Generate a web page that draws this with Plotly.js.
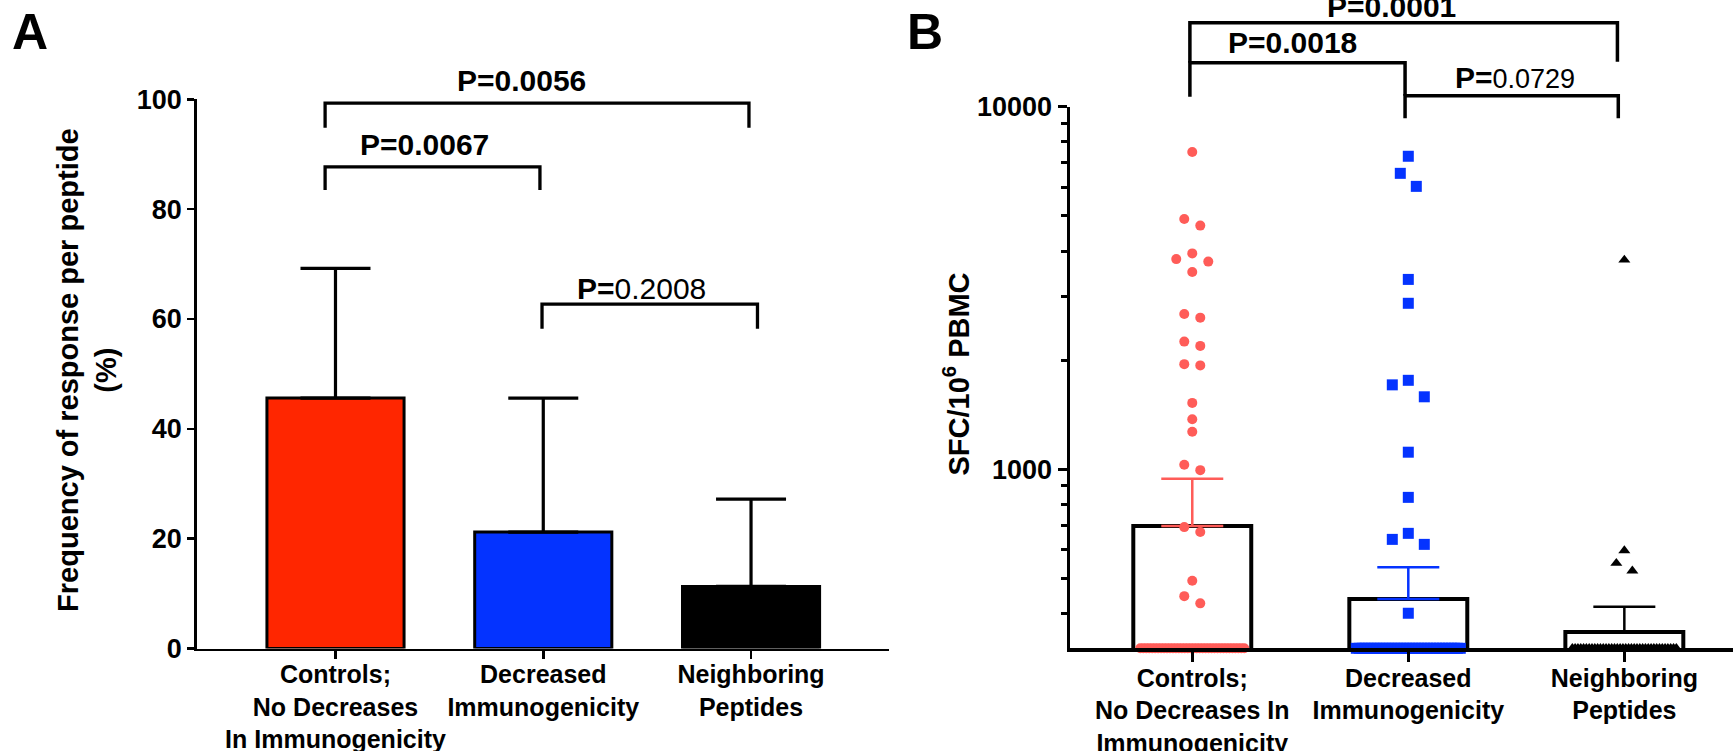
<!DOCTYPE html>
<html>
<head>
<meta charset="utf-8">
<script src="https://cdn.plot.ly/plotly-3.0.1.min.js"></script>
<style>
  html, body { margin: 0; padding: 0; background: #ffffff; }
  #chart { width: 1733px; height: 751px; }
</style>
</head>
<body>
<div id="chart"></div>
<script>
// ================= DATA =================
// Panel A : frequency of response per peptide (%)
const categoriesA = ["Controls;<br>No Decreases<br>In Immunogenicity", "Decreased<br>Immunogenicity", "Neighboring<br>Peptides"];
const freqMeanA   = [45.6, 21.2, 11.3];
const freqErrA    = [23.6, 24.4, 15.9];
const yTicksA     = [0, 20, 40, 60, 80, 100];
const pLabelsA    = ["P=0.0056", "P=0.0067", "P=0.2008"];

// Panel B : SFC / 10^6 PBMC
const categoriesB    = ["Controls;<br>No Decreases In<br>Immunogenicity", "Decreased<br>Immunogenicity", "Neighboring<br>Peptides"];
const sfcMeanB       = [698, 439, 356];
const sfcErrB        = [244, 98, 62];
const controlsSFC    = [7500, 4900, 4700, 3940, 3800, 3740, 3500, 2680, 2620, 2250, 2190, 1950, 1935,
                        1525, 1375, 1270, 1030, 995, 693, 672, 493, 447, 427];
const decreasedSFC   = [7300, 6550, 6030, 3340, 2870, 1760, 1710, 1585, 1115, 837, 666, 641, 621, 401];
const neighboringSFC = [3780, 597, 551, 525];
// responses at / below the axis floor (drawn on the baseline)
const controlsZeroCount    = 36;
const decreasedZeroCount   = 36;
const neighboringZeroCount = 38;
const sfcAxisMin     = 321;
const sfcAxisMax     = 10000;
const yTickValsB     = [1000, 10000];
const yMinorValsB    = [400, 500, 600, 700, 800, 900, 2000, 3000, 4000, 5000, 6000, 7000, 8000, 9000];
const pLabelsB       = ["P=0.0001", "P=0.0018", "P=0.0729"];

// ================= LAYOUT GEOMETRY =================
const W = 1733, H = 751;
const FONT = "'Liberation Sans', Arial, Helvetica, sans-serif";
const px2x = p => p / W;
const px2y = p => 1 - p / H;

const A = { left: 196.7, right: 889, top: 99.3, bottom: 648.5, xr: [-0.668, 2.664], yr: [0, 100] };
const B = { left: 1070, right: 1733, top: 106.7, bottom: 648.3, xr: [-0.566, 2.503],
            yr: [Math.log10(sfcAxisMin), Math.log10(sfcAxisMax)] };

function xPaper(P, v) { return px2x(P.left + (v - P.xr[0]) / (P.xr[1] - P.xr[0]) * (P.right - P.left)); }
function yPaperA(v) { return px2y(A.bottom - (v - A.yr[0]) / (A.yr[1] - A.yr[0]) * (A.bottom - A.top)); }
function yPxB(v) { return B.bottom - (Math.log10(v) - B.yr[0]) / (B.yr[1] - B.yr[0]) * (B.bottom - B.top); }
function yPaperB(v) { return px2y(yPxB(v)); }
const pxPerUnitB = (B.right - B.left) / (B.xr[1] - B.xr[0]);

// beeswarm-style horizontal spreading (GraphPad-like)
function swarm(values, zeroCount, center, diamPx, spacingPx, spreadPx) {
  const xs = [], ys = [];
  const sorted = values.slice().sort((a, b) => b - a);
  let cluster = [];
  const flush = () => {
    const n = cluster.length;
    cluster.forEach((v, k) => {
      let off;
      if (n % 2 === 1) { const m = Math.ceil(k / 2); off = (k === 0 ? 0 : (k % 2 === 1 ? -m : m)) * spacingPx; }
      else { const m = Math.floor(k / 2) + 0.5; off = (k % 2 === 0 ? -m : m) * spacingPx; }
      xs.push(center + off / pxPerUnitB); ys.push(v);
    });
    cluster = [];
  };
  sorted.forEach(v => {
    if (cluster.length && Math.abs(yPxB(v) - yPxB(cluster[cluster.length - 1])) >= diamPx) flush();
    cluster.push(v);
  });
  flush();
  for (let k = 0; k < zeroCount; k++) {
    const off = zeroCount > 1 ? -spreadPx + 2 * spreadPx * k / (zeroCount - 1) : 0;
    xs.push(center + off / pxPerUnitB); ys.push(sfcAxisMin);
  }
  return { x: xs, y: ys };
}

// ================= TRACES =================
const barColorsA = ["#ff2600", "#0433ff", "#000000"];
const traces = [];

traces.push({
  type: 'bar', x: [0, 1, 2], y: freqMeanA, width: 0.66, xaxis: 'x', yaxis: 'y',
  marker: { color: barColorsA, line: { color: '#000', width: 3 } },
  error_y: { type: 'data', symmetric: false, array: freqErrA, arrayminus: [0, 0, 0],
             color: '#000', thickness: 3.2, width: 35 },
  hoverinfo: 'skip'
});

const groupColorsB = ["#ff5c58", "#0433ff", "#000000"];
[0, 1, 2].forEach(i => {
  traces.push({
    type: 'bar', x: [i], y: [sfcMeanB[i]], width: 0.546, xaxis: 'x2', yaxis: 'y2',
    marker: { color: '#ffffff', line: { color: '#000', width: 4 } },
    error_y: { type: 'data', symmetric: false, array: [sfcErrB[i]], arrayminus: [0],
               color: groupColorsB[i], thickness: 2.5, width: 31 },
    hoverinfo: 'skip'
  });
});

const groupsB = [
  { vals: controlsSFC, zeros: controlsZeroCount, symbol: 'circle', size: 10, diam: 10 },
  { vals: decreasedSFC, zeros: decreasedZeroCount, symbol: 'square', size: 11, diam: 14 },
  { vals: neighboringSFC, zeros: neighboringZeroCount, symbol: 'triangle-up', size: 10.5, diam: 11 }
];
groupsB.forEach((g, i) => {
  const s = swarm(g.vals, g.zeros, i, g.diam, 16, 52);
  traces.push({
    type: 'scatter', mode: 'markers', x: s.x, y: s.y, xaxis: 'x2', yaxis: 'y2', cliponaxis: false,
    marker: { symbol: g.symbol, size: g.size, color: groupColorsB[i], line: { width: 0 } },
    hoverinfo: 'skip'
  });
});

// ================= BRACKETS & LABELS =================
const shapes = [];
const annotations = [];
function bracket(xp0, xp1, yTop, yL, yR, w) {
  shapes.push({ type: 'path', xref: 'paper', yref: 'paper',
    path: `M ${xp0} ${yL} L ${xp0} ${yTop} L ${xp1} ${yTop} L ${xp1} ${yR}`,
    line: { color: '#000', width: w } });
}

const bracketsA = [
  { x0: -0.05, x1: 1.99,  top: 99.3, legL: 94.8, legR: 94.8, lx: 0.896, ly: 103.5 },
  { x0: -0.05, x1: 0.984, top: 87.7, legL: 83.5, legR: 83.5, lx: 0.426, ly: 91.7 },
  { x0: 0.994, x1: 2.031, top: 62.7, legL: 58.2, legR: 58.2, lx: 1.475, ly: 65.6 }
];
bracketsA.forEach(b => bracket(xPaper(A, b.x0), xPaper(A, b.x1), yPaperA(b.top), yPaperA(b.legL), yPaperA(b.legR), 3.3));

const bracketsB = [
  { x0: -0.011, x1: 1.968, top: 17050, legL: 13225, legR: 13310, lx: 0.92,  ly: 18840 },
  { x0: -0.011, x1: 0.985, top: 13225, legL: 10657, legR: 10722, lx: 0.466, ly: 15070 },
  { x0: 0.985,  x1: 1.972, top: 10722, legL: 9290,  legR: 9290,  lx: 1.496, ly: 12035 }
];
bracketsB.forEach(b => bracket(xPaper(B, b.x0), xPaper(B, b.x1), yPaperB(b.top), yPaperB(b.legL), yPaperB(b.legR), 3.5));

// significant p-values fully bold; others: bold "P=" + regular number
function pText(label, significant, numSize) {
  if (significant) return '<b>' + label + '</b>';
  const parts = label.split('=');
  return '<b>' + parts[0] + '=</b><span style="font-size:' + numSize + 'px">' + parts[1] + '</span>';
}
const sigA = [true, true, false];
bracketsA.forEach((b, i) => annotations.push({
  xref: 'paper', yref: 'paper', x: xPaper(A, b.lx), y: yPaperA(b.ly), xanchor: 'center', yanchor: 'middle',
  text: pText(pLabelsA[i], sigA[i], 30), showarrow: false, font: { family: FONT, size: 30, color: '#000' }
}));
const sigB = [true, true, false];
bracketsB.forEach((b, i) => annotations.push({
  xref: 'paper', yref: 'paper', x: xPaper(B, b.lx), y: yPaperB(b.ly), xanchor: 'center', yanchor: 'middle',
  text: pText(pLabelsB[i], sigB[i], 27), showarrow: false, font: { family: FONT, size: 30, color: '#000' }
}));

// axis titles and panel letters
annotations.push({ xref: 'paper', yref: 'paper', x: px2x(87), y: px2y((A.top + A.bottom) / 2 - 3),
  xanchor: 'center', yanchor: 'middle', textangle: -90, showarrow: false,
  text: '<b>Frequency of response per peptide<br>(%)</b>', font: { family: FONT, size: 29, color: '#000' } });
annotations.push({ xref: 'paper', yref: 'paper', x: px2x(956), y: px2y((B.top + B.bottom) / 2 - 3),
  xanchor: 'center', yanchor: 'middle', textangle: -90, showarrow: false,
  text: '<b>SFC/10<sup>6</sup> PBMC</b>', font: { family: FONT, size: 29, color: '#000' } });
annotations.push({ xref: 'paper', yref: 'paper', x: px2x(30), y: px2y(32), xanchor: 'center', yanchor: 'middle',
  showarrow: false, text: '<b>A</b>', font: { family: FONT, size: 50, color: '#000' } });
annotations.push({ xref: 'paper', yref: 'paper', x: px2x(925), y: px2y(32), xanchor: 'center', yanchor: 'middle',
  showarrow: false, text: '<b>B</b>', font: { family: FONT, size: 50, color: '#000' } });

const tickFont = size => ({ family: FONT, size: size, weight: 'bold', color: '#000' });

const layout = {
  width: W, height: H, margin: { l: 0, r: 0, t: 0, b: 0 },
  paper_bgcolor: '#ffffff', plot_bgcolor: 'rgba(0,0,0,0)', showlegend: false, barmode: 'overlay',
  font: { family: FONT, color: '#000' },
  xaxis: { domain: [px2x(A.left), px2x(A.right)], range: A.xr, anchor: 'y', tickmode: 'array',
    tickvals: [0, 1, 2], ticktext: categoriesA, tickangle: 0, ticklabelstandoff: -6,
    ticks: 'outside', ticklen: 8, tickwidth: 2.5, tickcolor: '#000',
    showline: true, linewidth: 2.5, linecolor: '#000', showgrid: false, zeroline: false, tickfont: tickFont(25) },
  yaxis: { domain: [px2y(A.bottom), px2y(A.top)], range: A.yr, anchor: 'x', tickmode: 'array',
    tickvals: yTicksA, ticks: 'outside', ticklen: 7, tickwidth: 2.5, tickcolor: '#000',
    showline: true, linewidth: 2.5, linecolor: '#000', showgrid: false, zeroline: false, tickfont: tickFont(27) },
  xaxis2: { domain: [px2x(B.left), 1], range: B.xr, anchor: 'y2', tickmode: 'array',
    tickvals: [0, 1, 2], ticktext: categoriesB, tickangle: 0, ticklabelstandoff: -5,
    ticks: 'outside', ticklen: 10, tickwidth: 3.5, tickcolor: '#000',
    showline: true, linewidth: 3.5, linecolor: '#000', showgrid: false, zeroline: false, tickfont: tickFont(25) },
  yaxis2: { domain: [px2y(B.bottom), px2y(B.top)], type: 'log', range: B.yr, anchor: 'x2', tickmode: 'array',
    tickvals: yTickValsB, ticktext: yTickValsB.map(String), ticks: 'outside', ticklen: 9, tickwidth: 3.5,
    tickcolor: '#000', showline: true, linewidth: 3.5, linecolor: '#000', showgrid: false, zeroline: false,
    tickfont: tickFont(27),
    minor: { tickmode: 'array', tickvals: yMinorValsB, ticks: 'outside', ticklen: 6, tickwidth: 3,
             tickcolor: '#000', showgrid: false } },
  shapes: shapes,
  annotations: annotations
};

Plotly.newPlot('chart', traces, layout, { displayModeBar: false, staticPlot: true });
</script>
</body>
</html>
